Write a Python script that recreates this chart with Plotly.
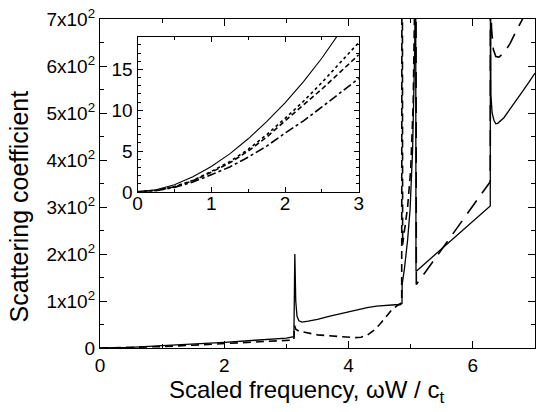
import plotly.graph_objects as go

# ---- main panel data ----
solid_x = [0, 0.5, 1, 1.5, 2, 2.5, 3, 3.12, 3.13, 3.135, 3.15, 3.17, 3.2, 3.25, 3.35, 3.5, 3.7, 3.93, 4.1, 4.3, 4.45,
           4.6, 4.75, 4.83, 4.86,
           4.862, 4.9, 4.95, 4.99, 5.03, 5.05, 5.065, 5.075, 5.08, 5.085, 5.5, 6.0, 6.28,
           6.283, 6.287, 6.29, 6.31, 6.34, 6.37, 6.4, 6.5, 6.6, 6.7, 6.8, 6.9, 7.0]
solid_y = [0, 1.5, 5, 8, 12, 16.5, 21, 24, 110, 200, 100, 68, 58, 55, 57, 61, 68, 75, 80, 86, 89,
           91, 92, 92, 95,
           135, 170, 230, 295, 420, 518, 640, 800, 800, 163, 211, 269, 302,
           800, 800, 540, 500, 484, 477, 478, 490, 508, 527, 546, 565, 585]

dash_x = [0, 0.5, 1, 1.5, 2, 2.5, 3, 3.12, 3.13, 3.15, 3.2, 3.5, 3.9, 4.1, 4.2, 4.3, 4.4, 4.5, 4.6, 4.7, 4.8, 4.855,
          4.858, 4.866, 4.87, 4.9, 4.95, 5.0, 5.04, 5.07, 5.08]
dash_y = [0, 0.8, 3, 6, 9, 12.5, 16, 17, 48, 40, 36, 28, 24, 22, 23, 27, 37, 50, 66, 82, 92, 96,
          800, 800, 220, 250, 300, 380, 520, 800, 800]

ldash_x = [5.085, 5.09, 5.5, 6.0, 6.28, 6.283, 6.29, 6.3, 6.33, 6.37, 6.42, 6.5, 6.6, 6.7, 6.8, 6.9, 7.0]
ldash_y = [800, 135, 210, 303, 354, 800, 800, 680, 635, 620, 619, 628, 648, 675, 700, 725, 750]

y_tickvals = [0, 100, 200, 300, 400, 500, 600, 700]
y_ticktext = ["0", "1x10<sup>2</sup>", "2x10<sup>2</sup>", "3x10<sup>2</sup>", "4x10<sup>2</sup>",
              "5x10<sup>2</sup>", "6x10<sup>2</sup>", "7x10<sup>2</sup>"]

# ---- inset data ----
in_x = [0, 0.25, 0.5, 0.75, 1, 1.25, 1.5, 1.75, 2, 2.25, 2.5, 2.75, 3]
in_solid = [0, 0.25, 0.88, 1.84, 3.1, 4.65, 6.5, 8.6, 10.9, 13.5, 16.4, 19.5, 22.9]
in_dot = [0, 0.18, 0.65, 1.4, 2.5, 3.7, 5.2, 7.0, 9.0, 11.1, 13.4, 15.8, 18.3]
in_dash = [0, 0.17, 0.62, 1.35, 2.4, 3.55, 5.0, 6.7, 8.7, 10.6, 12.6, 14.7, 16.8]
in_dashdot = [0, 0.15, 0.55, 1.2, 2.1, 3.05, 4.25, 5.6, 7.2, 8.7, 10.4, 12.1, 13.9]

FONT = "Liberation Sans, Arial, sans-serif"
fig = go.Figure()
lw = 1.3
fig.add_trace(go.Scatter(x=dash_x, y=dash_y, mode="lines", line=dict(color="black", width=1.6, dash="8px,5px")))
fig.add_trace(go.Scatter(x=ldash_x, y=ldash_y, mode="lines", line=dict(color="black", width=1.6, dash="16px,9px")))
fig.add_trace(go.Scatter(x=solid_x, y=solid_y, mode="lines", line=dict(color="black", width=lw)))

fig.add_trace(go.Scatter(x=in_x, y=in_solid, mode="lines", line=dict(color="black", width=1.1),
                         xaxis="x2", yaxis="y2"))
fig.add_trace(go.Scatter(x=in_x, y=in_dot, mode="lines", line=dict(color="black", width=1.6, dash="dot"),
                         xaxis="x2", yaxis="y2"))
fig.add_trace(go.Scatter(x=in_x, y=in_dash, mode="lines", line=dict(color="black", width=1.6, dash="5px,3px"),
                         xaxis="x2", yaxis="y2"))
fig.add_trace(go.Scatter(x=in_x, y=in_dashdot, mode="lines", line=dict(color="black", width=1.6, dash="dashdot"),
                         xaxis="x2", yaxis="y2"))

axis_common = dict(showgrid=False, zeroline=False, showline=True, linecolor="black", linewidth=1.2,
                   mirror="allticks", ticks="inside", tickcolor="black", tickwidth=1,
                   ticklabeloverflow="allow")

fig.update_layout(
    width=546, height=412,
    margin=dict(l=100, r=6, t=13, b=64),
    paper_bgcolor="white", plot_bgcolor="white",
    showlegend=False,
    font=dict(family=FONT, color="black", size=19),
    xaxis=dict(range=[0, 7], tickvals=[0, 2, 4, 6], ticklen=7,
               minor=dict(tickvals=[1, 3, 5], ticklen=4, ticks="inside", tickcolor="black"),
               **axis_common),
    yaxis=dict(range=[0, 700], tickvals=y_tickvals, ticktext=y_ticktext, ticklen=7,
               minor=dict(dtick=50, ticklen=4, ticks="inside", tickcolor="black"),
               **axis_common),
    xaxis2=dict(domain=[0.0864, 0.595], anchor="y2", range=[0, 3], tickvals=[0, 1, 2, 3], ticklen=5,
                minor=dict(dtick=0.5, ticklen=3, ticks="inside", tickcolor="black"),
                ticklabelstandoff=-6, **axis_common),
    yaxis2=dict(domain=[0.4746, 0.946], anchor="x2", range=[0, 19], tickvals=[0, 5, 10, 15], ticklen=5,
                minor=dict(dtick=1, ticklen=3, ticks="inside", tickcolor="black"),
                ticklabelstandoff=0, **axis_common),
    annotations=[
        dict(text="Scattering coefficient", xref="paper", yref="paper", x=-0.1864, y=0.43,
             xanchor="center", yanchor="middle", textangle=-90, showarrow=False, font=dict(size=25)),
        dict(text="Scaled frequency, ωW / c<sub>t</sub>", xref="paper", yref="paper", x=0.475, y=-0.132,
             xanchor="center", yanchor="middle", showarrow=False, font=dict(size=24)),
    ],
)

fig.write_html("out.html")
